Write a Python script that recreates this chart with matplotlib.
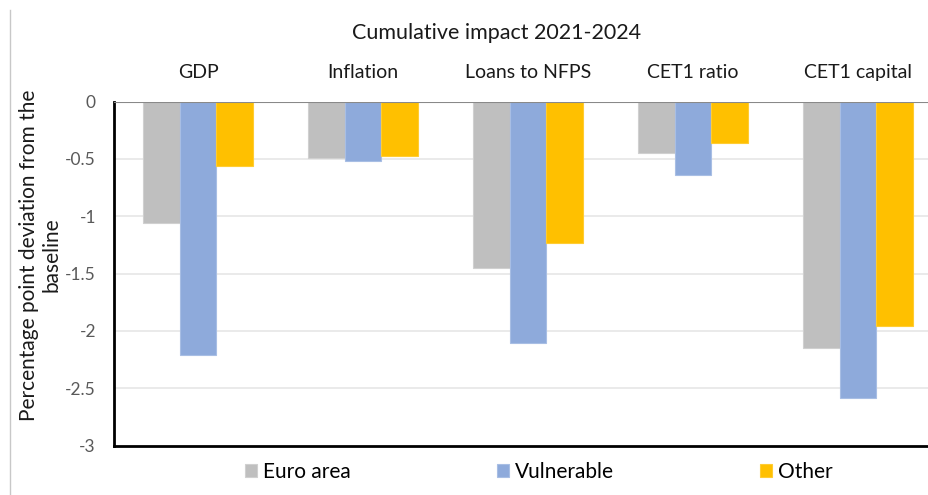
"""Cumulative impact 2021-2024: grouped bar chart."""

import matplotlib
matplotlib.use('Agg')
from matplotlib import pyplot
from matplotlib.lines import Line2D
import numpy

categories = ['GDP', 'Inflation', 'Loans to NFPS', 'CET1 ratio', 'CET1 capital']
series = ['Euro area', 'Vulnerable', 'Other']
euro_area = [-1.06, -0.49, -1.45, -0.45, -2.15]
vulnerable = [-2.21, -0.52, -2.11, -0.64, -2.59]
other = [-0.56, -0.475, -1.23, -0.36, -1.96]
yticks = [0, -0.5, -1, -1.5, -2, -2.5, -3]
yticklabels = ['0', '-0.5', '-1', '-1.5', '-2', '-2.5', '-3']

colors = ['#BFBFBF', '#8EAADB', '#FFC000']
edges = ['#D0D0D0', '#A8BEE4', '#FFCC33']

pyplot.rc('font', family=['Lato', 'DejaVu Sans'])
fig = pyplot.figure(figsize=(9.29, 4.95), dpi=100)
ax = fig.add_axes([114 / 929, 49.5 / 495, 815 / 929, 344 / 495])

x = numpy.arange(len(categories))
width = 0.222
for i, (name, values) in enumerate(zip(series, [euro_area, vulnerable, other])):
    ax.bar(x + (i - 1) * width, values, width, color=colors[i],
           edgecolor=edges[i], linewidth=0.8, label=name, zorder=2)

ax.set_xlim(-0.51, 4.43)
ax.set_ylim(-3, 0)
ax.set_yticks(yticks)
ax.set_yticklabels(yticklabels)
ax.set_xticks([])
ax.tick_params(axis='y', length=0, pad=13, labelsize=12.5, labelcolor='#595959')
for y in yticks[1:-1]:
    ax.axhline(y, color='#E6E6E6', linewidth=1.2, zorder=1)
ax.axhline(0, color='#898989', linewidth=1.5, zorder=3)
for side in ['top', 'right']:
    ax.spines[side].set_visible(False)
for side in ['left', 'bottom']:
    ax.spines[side].set_linewidth(2.0)
    ax.spines[side].set_color('black')

# Category labels above the bars.
for xi, cat in zip(x, categories):
    ax.text(xi, 1.083, cat, transform=ax.get_xaxis_transform(),
            ha='center', va='center', fontsize=14, color='#1a1a1a')

fig.text(497 / 929, 1 - 33 / 495, 'Cumulative impact 2021-2024',
         ha='center', va='center', fontsize=15.5, color='#1a1a1a')
fig.text(40 / 929, 1 - 255 / 495,
         'Percentage point deviation from the\nbaseline',
         ha='center', va='center', rotation=90, fontsize=15,
         color='#1a1a1a', linespacing=1.15)

fig.legend(loc='center', bbox_to_anchor=(539 / 929, 1 - 472 / 495),
           ncol=3, frameon=False, fontsize=15, handlelength=0.58,
           handleheight=0.58, handletextpad=0.3, columnspacing=7.0)

fig.add_artist(Line2D([10 / 929, 10 / 929], [0, 1 - 10 / 495],
                      color='#C8C8C8', linewidth=1.0))

fig.savefig('out.png', dpi=100)
